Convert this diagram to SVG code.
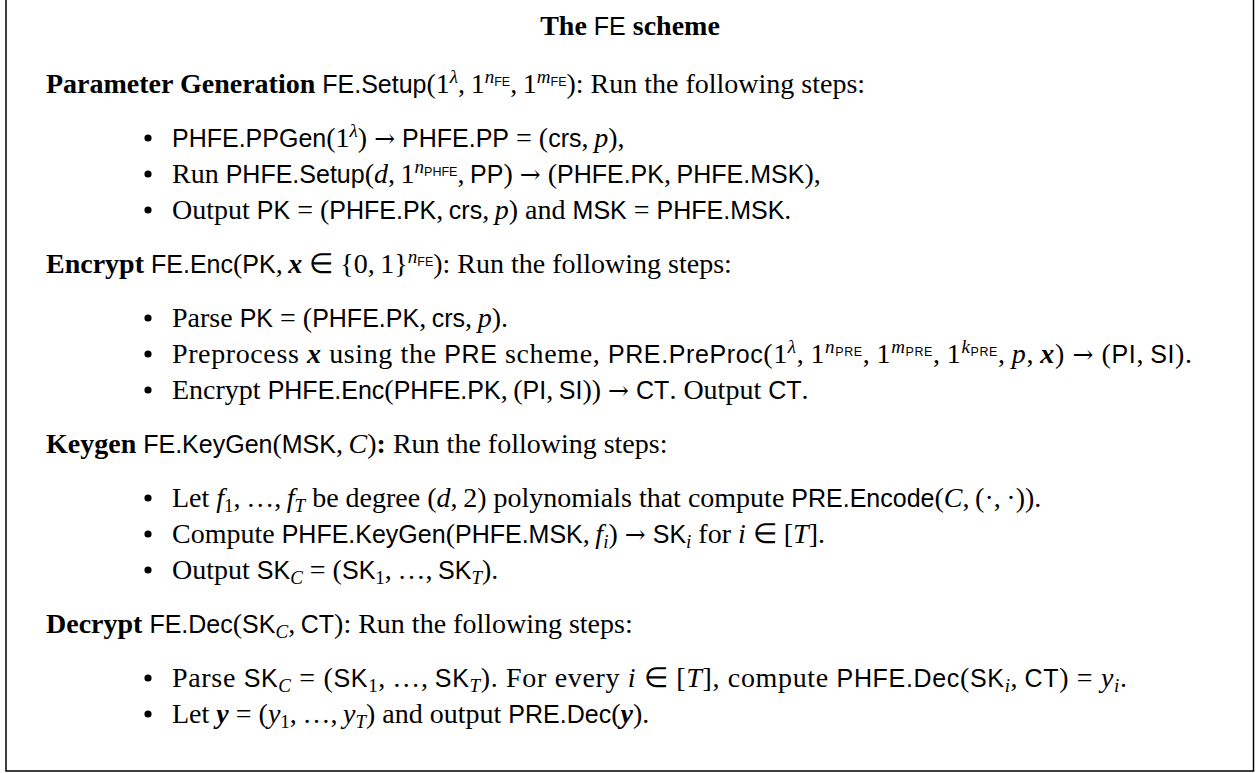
<svg xmlns="http://www.w3.org/2000/svg" width="1257" height="773" viewBox="0 0 1257 773">
<style>
text { font-family: "Liberation Serif", serif; font-size: 28px; fill: #000; }
.b { font-weight: bold; }
.f { font-family: "Liberation Sans", sans-serif; font-size: 25px; }
.i { font-style: italic; }
.bi { font-weight: bold; font-style: italic; }
.s { font-size: 19px; }
.ss { font-family: "Liberation Sans", sans-serif; font-size: 12.5px; }
.ar { font-family: "DejaVu Serif", serif; font-size: 25px; }
.frame { fill: #fff; stroke: #000; stroke-width: 1.5; }
.dot { fill: #000; }
</style>
<rect x="0" y="0" width="1257" height="773" fill="#fff"/>
<g id="frame"><rect class="frame" x="6" y="-5" width="1247.5" height="776"/></g>
<g id="title"><text x="630" y="35" text-anchor="middle"><tspan class="b">The</tspan> <tspan class="f">FE</tspan> <tspan class="b">scheme</tspan></text></g>
<g id="setup">
<text x="46" y="93"><tspan class="b">Parameter Generation</tspan> <tspan class="f">FE.Setup</tspan>(1<tspan class="s i" dy="-10">λ</tspan><tspan dy="10">,&#8201;1</tspan><tspan class="s i" dy="-10">n</tspan><tspan class="ss" dy="3">FE</tspan><tspan dy="7">,&#8201;1</tspan><tspan class="s i" dy="-10">m</tspan><tspan class="ss" dy="3">FE</tspan><tspan dy="7">): Run the following steps:</tspan></text>
<circle class="dot" cx="148" cy="138" r="3.6"/>
<text x="172" y="147"><tspan class="f">PHFE.PPGen</tspan>(1<tspan class="s i" dy="-10">λ</tspan><tspan dy="10">) </tspan><tspan class="ar">→</tspan> <tspan class="f">PHFE.PP</tspan> = (<tspan class="f">crs</tspan>,&#8201;<tspan class="i">p</tspan>),</text>
<circle class="dot" cx="148" cy="174" r="3.6"/>
<text x="172" y="183">Run <tspan class="f">PHFE.Setup</tspan>(<tspan class="i">d</tspan>,&#8201;1<tspan class="s i" dy="-10">n</tspan><tspan class="ss" dy="3">PHFE</tspan><tspan dy="7">,&#8201;</tspan><tspan class="f">PP</tspan>) <tspan class="ar">→</tspan> (<tspan class="f">PHFE.PK</tspan>,&#8201;<tspan class="f">PHFE.MSK</tspan>),</text>
<circle class="dot" cx="148" cy="210" r="3.6"/>
<text x="172" y="219">Output <tspan class="f">PK</tspan> = (<tspan class="f">PHFE.PK</tspan>,&#8201;<tspan class="f">crs</tspan>,&#8201;<tspan class="i">p</tspan>) and <tspan class="f">MSK</tspan> = <tspan class="f">PHFE.MSK</tspan>.</text>
</g>
<g id="encrypt">
<text x="46" y="273"><tspan class="b">Encrypt</tspan> <tspan class="f">FE.Enc</tspan>(<tspan class="f">PK</tspan>,&#8201;<tspan class="bi">x</tspan> ∈ {0,&#8201;1}<tspan class="s i" dy="-10">n</tspan><tspan class="ss" dy="3">FE</tspan><tspan dy="7">): Run the following steps:</tspan></text>
<circle class="dot" cx="148" cy="318" r="3.6"/>
<text x="172" y="327">Parse <tspan class="f">PK</tspan> = (<tspan class="f">PHFE.PK</tspan>,&#8201;<tspan class="f">crs</tspan>,&#8201;<tspan class="i">p</tspan>).</text>
<circle class="dot" cx="148" cy="354" r="3.6"/>
<text x="172" y="363" textLength="1020" lengthAdjust="spacing">Preprocess <tspan class="bi">x</tspan> using the <tspan class="f">PRE</tspan> scheme, <tspan class="f">PRE.PreProc</tspan>(1<tspan class="s i" dy="-10">λ</tspan><tspan dy="10">,&#8201;1</tspan><tspan class="s i" dy="-10">n</tspan><tspan class="ss" dy="3">PRE</tspan><tspan dy="7">,&#8201;1</tspan><tspan class="s i" dy="-10">m</tspan><tspan class="ss" dy="3">PRE</tspan><tspan dy="7">,&#8201;1</tspan><tspan class="s i" dy="-10">k</tspan><tspan class="ss" dy="3">PRE</tspan><tspan dy="7">,&#8201;</tspan><tspan class="i">p</tspan>,&#8201;<tspan class="bi">x</tspan>) <tspan class="ar">→</tspan> (<tspan class="f">PI</tspan>,&#8201;<tspan class="f">SI</tspan>).</text>
<circle class="dot" cx="148" cy="390" r="3.6"/>
<text x="172" y="399">Encrypt <tspan class="f">PHFE.Enc</tspan>(<tspan class="f">PHFE.PK</tspan>,&#8201;(<tspan class="f">PI</tspan>,&#8201;<tspan class="f">SI</tspan>)) <tspan class="ar">→</tspan> <tspan class="f">CT</tspan>. Output <tspan class="f">CT</tspan>.</text>
</g>
<g id="keygen">
<text x="46" y="453"><tspan class="b">Keygen</tspan> <tspan class="f">FE.KeyGen</tspan>(<tspan class="f">MSK</tspan>,&#8201;<tspan class="i">C</tspan>)<tspan class="b">:</tspan> Run the following steps:</text>
<circle class="dot" cx="148" cy="498" r="3.6"/>
<text x="172" y="507">Let <tspan class="i">f</tspan><tspan class="s" dy="5">1</tspan><tspan dy="-5">,&#8201;…,&#8201;</tspan><tspan class="i">f</tspan><tspan class="s i" dy="5">T</tspan><tspan dy="-5"> be degree (</tspan><tspan class="i">d</tspan>,&#8201;2) polynomials that compute <tspan class="f">PRE.Encode</tspan>(<tspan class="i">C</tspan>,&#8201;(·,&#8201;·)).</text>
<circle class="dot" cx="148" cy="534" r="3.6"/>
<text x="172" y="543">Compute <tspan class="f">PHFE.KeyGen</tspan>(<tspan class="f">PHFE.MSK</tspan>,&#8201;<tspan class="i">f</tspan><tspan class="s i" dy="5">i</tspan><tspan dy="-5">) </tspan><tspan class="ar">→</tspan> <tspan class="f">SK</tspan><tspan class="s i" dy="5">i</tspan><tspan dy="-5"> for </tspan><tspan class="i">i</tspan> ∈ [<tspan class="i">T</tspan>].</text>
<circle class="dot" cx="148" cy="570" r="3.6"/>
<text x="172" y="579">Output <tspan class="f">SK</tspan><tspan class="s i" dy="5">C</tspan><tspan dy="-5"> = (</tspan><tspan class="f">SK</tspan><tspan class="s" dy="5">1</tspan><tspan dy="-5">,&#8201;…,&#8201;</tspan><tspan class="f">SK</tspan><tspan class="s i" dy="5">T</tspan><tspan dy="-5">).</tspan></text>
</g>
<g id="decrypt">
<text x="46" y="633"><tspan class="b">Decrypt</tspan> <tspan class="f">FE.Dec</tspan>(<tspan class="f">SK</tspan><tspan class="s i" dy="5">C</tspan><tspan dy="-5">,&#8201;</tspan><tspan class="f">CT</tspan>): Run the following steps:</text>
<circle class="dot" cx="148" cy="678" r="3.6"/>
<text x="172" y="687" textLength="955" lengthAdjust="spacing">Parse <tspan class="f">SK</tspan><tspan class="s i" dy="5">C</tspan><tspan dy="-5"> = (</tspan><tspan class="f">SK</tspan><tspan class="s" dy="5">1</tspan><tspan dy="-5">,&#8201;…,&#8201;</tspan><tspan class="f">SK</tspan><tspan class="s i" dy="5">T</tspan><tspan dy="-5">). For every </tspan><tspan class="i">i</tspan> ∈ [<tspan class="i">T</tspan>], compute <tspan class="f">PHFE.Dec</tspan>(<tspan class="f">SK</tspan><tspan class="s i" dy="5">i</tspan><tspan dy="-5">,&#8201;</tspan><tspan class="f">CT</tspan>) = <tspan class="i">y</tspan><tspan class="s i" dy="5">i</tspan><tspan dy="-5">.</tspan></text>
<circle class="dot" cx="148" cy="714" r="3.6"/>
<text x="172" y="723">Let <tspan class="bi">y</tspan> = (<tspan class="i">y</tspan><tspan class="s" dy="5">1</tspan><tspan dy="-5">,&#8201;…,&#8201;</tspan><tspan class="i">y</tspan><tspan class="s i" dy="5">T</tspan><tspan dy="-5">) and output </tspan><tspan class="f">PRE.Dec</tspan>(<tspan class="bi">y</tspan>).</text>
</g>
</svg>
